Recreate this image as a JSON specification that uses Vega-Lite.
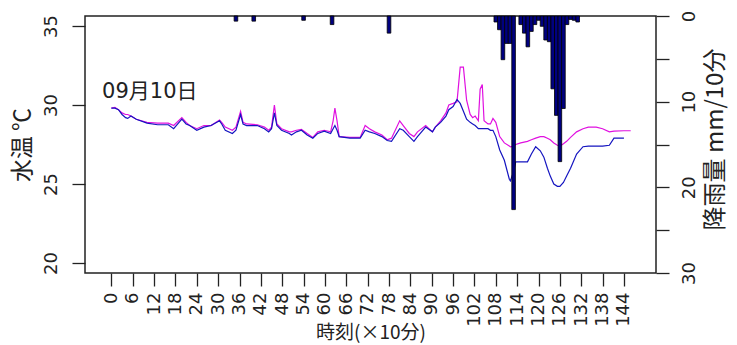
{
  "$schema": "https://vega.github.io/schema/vega-lite/v6.json",
  "width": 571,
  "height": 257,
  "autosize": {"type": "none"},
  "padding": {"left": 85, "top": 16, "right": 81, "bottom": 72},
  "background": "white",
  "config": {
    "view": {"stroke": "#222", "strokeWidth": 1.5},
    "axis": {
      "grid": false,
      "domain": false,
      "tickColor": "#222",
      "tickWidth": 1.3,
      "tickSize": 13,
      "labelFont": "DejaVu Sans",
      "labelFontSize": 18,
      "labelColor": "#222",
      "labelOverlap": false,
      "labelFlush": false,
      "titleFont": "Noto Sans CJK JP",
      "titleFontWeight": "normal",
      "titleColor": "#222"
    }
  },
  "datasets": {
    "temp": [
      {"time": 0, "a": 29.8, "b": 29.8},
      {"time": 1, "a": 29.85, "b": 29.8},
      {"time": 2, "a": 29.7, "b": 29.7},
      {"time": 3, "a": 29.5, "b": 29.4},
      {"time": 4, "a": 29.4, "b": 29.2},
      {"time": 4.6, "a": 29.4, "b": 29.15},
      {"time": 5.5, "a": 29.3, "b": 29.3},
      {"time": 7, "a": 29.1, "b": 29.1},
      {"time": 10, "a": 28.9, "b": 28.85},
      {"time": 13, "a": 28.85, "b": 28.75},
      {"time": 16, "a": 28.85, "b": 28.75},
      {"time": 17.5, "a": 28.7, "b": 28.5},
      {"time": 19.8, "a": 29.2, "b": 29.1},
      {"time": 21, "a": 28.9, "b": 28.8},
      {"time": 22, "a": 28.7, "b": 28.7},
      {"time": 24, "a": 28.5, "b": 28.4},
      {"time": 26, "a": 28.7, "b": 28.6},
      {"time": 28, "a": 28.7, "b": 28.7},
      {"time": 30.4, "a": 29.05, "b": 29.0},
      {"time": 31, "a": 28.9, "b": 28.8},
      {"time": 32, "a": 28.6, "b": 28.4},
      {"time": 34, "a": 28.4, "b": 28.2},
      {"time": 35, "a": 28.6, "b": 28.4},
      {"time": 36.3, "a": 29.6, "b": 29.4},
      {"time": 37, "a": 28.9, "b": 28.8},
      {"time": 38, "a": 28.8, "b": 28.7},
      {"time": 41, "a": 28.75, "b": 28.7},
      {"time": 43, "a": 28.6, "b": 28.5},
      {"time": 44.2, "a": 28.4, "b": 28.3},
      {"time": 45, "a": 28.6, "b": 28.5},
      {"time": 45.8, "a": 30.0, "b": 29.5},
      {"time": 46.5, "a": 28.8, "b": 28.7},
      {"time": 47.8, "a": 28.5, "b": 28.4},
      {"time": 50, "a": 28.3, "b": 28.2},
      {"time": 50.6, "a": 28.3, "b": 28.1},
      {"time": 52, "a": 28.4, "b": 28.3},
      {"time": 53.4, "a": 28.45, "b": 28.4},
      {"time": 55, "a": 28.2, "b": 28.1},
      {"time": 56.6, "a": 27.95, "b": 27.9},
      {"time": 58, "a": 28.3, "b": 28.2},
      {"time": 59.8, "a": 28.4, "b": 28.35},
      {"time": 61.6, "a": 28.3, "b": 28.2},
      {"time": 62.3, "a": 29.0, "b": 28.5},
      {"time": 62.8, "a": 29.8, "b": 28.7},
      {"time": 63.4, "a": 29.0, "b": 28.4},
      {"time": 64, "a": 28.0, "b": 28.0},
      {"time": 67, "a": 27.95, "b": 27.9},
      {"time": 69.9, "a": 27.95, "b": 27.9},
      {"time": 71.3, "a": 28.7, "b": 28.4},
      {"time": 72.5, "a": 28.5, "b": 28.3},
      {"time": 74, "a": 28.3, "b": 28.2},
      {"time": 76, "a": 28.1, "b": 28.0},
      {"time": 77.5, "a": 27.8, "b": 27.75},
      {"time": 78.7, "a": 27.9, "b": 27.7},
      {"time": 81, "a": 29.0, "b": 28.5},
      {"time": 82, "a": 28.7, "b": 28.4},
      {"time": 83.7, "a": 28.2, "b": 28.0},
      {"time": 85, "a": 28.0, "b": 27.7},
      {"time": 86, "a": 28.3, "b": 28.0},
      {"time": 88.3, "a": 28.7, "b": 28.6},
      {"time": 90.2, "a": 28.3, "b": 28.3},
      {"time": 91, "a": 28.6, "b": 28.6},
      {"time": 92.5, "a": 29.0, "b": 28.9},
      {"time": 94, "a": 29.5, "b": 29.3},
      {"time": 94.8, "a": 30.0, "b": 29.7},
      {"time": 96, "a": 30.1, "b": 29.9},
      {"time": 97.1, "a": 30.2, "b": 30.35},
      {"time": 98, "a": 32.4, "b": 30.1},
      {"time": 98.9, "a": 32.4, "b": 29.6},
      {"time": 99.8, "a": 30.3, "b": 29.1},
      {"time": 100.8, "a": 29.4, "b": 28.9},
      {"time": 101.5, "a": 29.2, "b": 28.8},
      {"time": 102.2, "a": 29.3, "b": 28.7},
      {"time": 103.1, "a": 29.0, "b": 28.5},
      {"time": 103.6, "a": 31.0, "b": 28.5},
      {"time": 104.2, "a": 31.3, "b": 28.5},
      {"time": 104.7, "a": 29.0, "b": 28.5},
      {"time": 105.8, "a": 28.8, "b": 28.5},
      {"time": 106.5, "a": 28.8, "b": 28.4},
      {"time": 107.2, "a": 29.15, "b": 28.4},
      {"time": 108, "a": 28.9, "b": 28.0},
      {"time": 109.1, "a": 28.0, "b": 27.15},
      {"time": 110.4, "a": 27.6, "b": 26.5},
      {"time": 111.8, "a": 27.4, "b": 25.3},
      {"time": 112.1, "a": 27.35, "b": 25.2},
      {"time": 113, "a": 27.4, "b": 25.8},
      {"time": 113.6, "a": 27.5, "b": 26.4},
      {"time": 115, "a": 27.6, "b": 26.4},
      {"time": 116.9, "a": 27.7, "b": 26.4},
      {"time": 118, "a": 27.8, "b": 26.9},
      {"time": 119.2, "a": 27.9, "b": 27.36},
      {"time": 120.5, "a": 28.0, "b": 27.1},
      {"time": 121.5, "a": 28.0, "b": 26.7},
      {"time": 122.5, "a": 27.9, "b": 26.0},
      {"time": 123.3, "a": 27.8, "b": 25.5},
      {"time": 124.3, "a": 27.6, "b": 25.0},
      {"time": 125.3, "a": 27.45, "b": 24.85},
      {"time": 126, "a": 27.4, "b": 24.85},
      {"time": 127, "a": 27.55, "b": 25.1},
      {"time": 127.9, "a": 27.7, "b": 25.5},
      {"time": 129, "a": 27.95, "b": 26.0},
      {"time": 130.7, "a": 28.3, "b": 26.9},
      {"time": 132.5, "a": 28.5, "b": 27.36},
      {"time": 134, "a": 28.6, "b": 27.4},
      {"time": 136.2, "a": 28.6, "b": 27.4},
      {"time": 138, "a": 28.5, "b": 27.4},
      {"time": 139.9, "a": 28.3, "b": 27.45},
      {"time": 141.2, "a": 28.35, "b": 27.9},
      {"time": 144, "a": 28.37, "b": 27.9},
      {"time": 145.9, "a": 28.37, "b": null}
    ],
    "rain": [
      {"time": 35, "rain": 0.6},
      {"time": 40, "rain": 0.6},
      {"time": 54, "rain": 0.5},
      {"time": 62, "rain": 1.0},
      {"time": 78, "rain": 2.0},
      {"time": 108, "rain": 0.7},
      {"time": 109, "rain": 1.6},
      {"time": 110, "rain": 5.1},
      {"time": 111, "rain": 3.2},
      {"time": 112, "rain": 3.2},
      {"time": 113, "rain": 22.6},
      {"time": 115, "rain": 1.0},
      {"time": 116, "rain": 2.0},
      {"time": 117, "rain": 3.6},
      {"time": 118, "rain": 1.8},
      {"time": 119, "rain": 1.0},
      {"time": 120, "rain": 0.5},
      {"time": 121, "rain": 1.2},
      {"time": 122, "rain": 2.8},
      {"time": 123, "rain": 3.0},
      {"time": 124, "rain": 8.5},
      {"time": 125, "rain": 11.6},
      {"time": 126, "rain": 17.0},
      {"time": 127, "rain": 10.8},
      {"time": 128, "rain": 1.0},
      {"time": 129, "rain": 0.4},
      {"time": 130, "rain": 0.5},
      {"time": 131, "rain": 0.7}
    ],
    "note": [
      {"label": "09月10日"}
    ]
  },
  "layer": [
    {
      "layer": [
        {
          "data": {"name": "temp"},
          "mark": {"type": "line", "color": "#E010E0", "strokeWidth": 1.2},
          "encoding": {
            "x": {"field": "time", "type": "quantitative"},
            "y": {"field": "a", "type": "quantitative"}
          }
        },
        {
          "data": {"name": "temp"},
          "mark": {"type": "line", "color": "#1515C0", "strokeWidth": 1.2},
          "encoding": {
            "x": {"field": "time", "type": "quantitative"},
            "y": {"field": "b", "type": "quantitative"}
          }
        },
        {
          "data": {"name": "note"},
          "mark": {"type": "text", "font": "DejaVu Sans, Noto Sans CJK JP", "fontSize": 21, "align": "left", "baseline": "alphabetic", "color": "#222"},
          "encoding": {
            "text": {"field": "label", "type": "nominal"},
            "x": {"datum": -2.6, "type": "quantitative"},
            "y": {"datum": 30.44, "type": "quantitative"}
          }
        }
      ],
      "encoding": {
        "x": {
          "type": "quantitative",
          "scale": {"domain": [-6, 151.6], "nice": false, "zero": false},
          "axis": {
            "values": [0, 6, 12, 18, 24, 30, 36, 42, 48, 54, 60, 66, 72, 78, 84, 90, 96, 102, 108, 114, 120, 126, 132, 138, 144],
            "labelAngle": 270,
            "labelAlign": "right",
            "labelBaseline": "middle",
            "labelPadding": 6,
            "title": "時刻(×10分)",
            "titleFontSize": 19,
            "titleY": 65,
            "titleBaseline": "alphabetic"
          }
        },
        "y": {
          "type": "quantitative",
          "scale": {"domain": [19.367, 35.633], "nice": false, "zero": false},
          "axis": {
            "orient": "left",
            "values": [20, 25, 30, 35],
            "labelAngle": 270,
            "labelAlign": "center",
            "labelBaseline": "alphabetic",
            "labelPadding": 16,
            "title": "水温 ℃",
            "titleFontSize": 23,
            "titleAngle": 270,
            "titleX": -63,
            "titleY": 128.5,
            "titleAlign": "center",
            "titleBaseline": "middle"
          }
        }
      }
    },
    {
      "data": {"name": "rain"},
      "mark": {"type": "bar", "orient": "vertical", "width": 3.62, "fill": "#000080", "stroke": "#000", "strokeWidth": 0.8},
      "encoding": {
        "x": {
          "field": "time",
          "type": "quantitative",
          "scale": {"domain": [-6, 151.6], "nice": false, "zero": false},
          "axis": {
            "values": [0, 6, 12, 18, 24, 30, 36, 42, 48, 54, 60, 66, 72, 78, 84, 90, 96, 102, 108, 114, 120, 126, 132, 138, 144],
            "labelAngle": 270,
            "labelAlign": "right",
            "labelBaseline": "middle",
            "labelPadding": 6,
            "title": "時刻(×10分)",
            "titleFontSize": 19,
            "titleY": 65,
            "titleBaseline": "alphabetic"
          }
        },
        "y": {
          "field": "rain",
          "type": "quantitative",
          "scale": {"domain": [0, 30], "reverse": true, "nice": false},
          "axis": {
            "orient": "right",
            "values": [0, 5, 10, 15, 20, 25, 30],
            "labelExpr": "datum.value % 10 == 0 ? datum.label : ''",
            "labelAngle": 270,
            "labelAlign": "center",
            "labelBaseline": "top",
            "labelPadding": 11,
            "title": "降雨量 mm/10分",
            "titleFontSize": 24,
            "titleAngle": 270,
            "titleX": 59,
            "titleY": 123,
            "titleAlign": "center",
            "titleBaseline": "middle"
          }
        }
      }
    }
  ],
  "resolve": {"scale": {"y": "independent"}, "axis": {"y": "independent"}}
}
